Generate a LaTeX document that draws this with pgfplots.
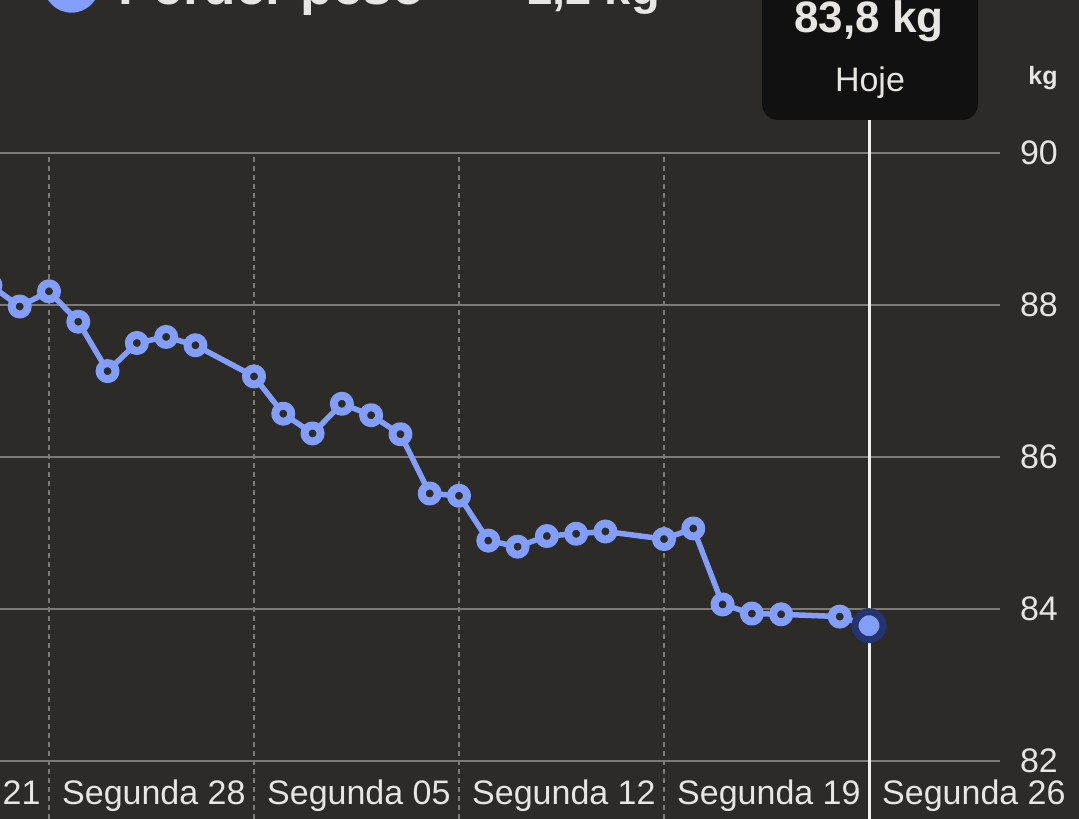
\documentclass[border=0pt]{standalone}
\usepackage{pgfplots}
\pgfplotsset{compat=1.18}
\usepackage{fontspec}
\setmainfont{Liberation Sans}
\definecolor{bg}{RGB}{44,43,40}
\definecolor{gridc}{RGB}{125,123,118}
\definecolor{txt}{RGB}{232,230,226}
\definecolor{serie}{RGB}{130,158,248}
\definecolor{ring}{RGB}{36,52,112}
\definecolor{tip}{RGB}{17,17,17}
\definecolor{today}{RGB}{240,240,238}
\begin{document}
\begin{tikzpicture}
\useasboundingbox (0,0) rectangle (1079pt,819pt);
\clip (0,0) rectangle (1079pt,819pt);
\fill[bg] (0,0) rectangle (1079pt,819pt);
\begin{axis}[
  at={(-185.29pt,0pt)}, anchor=south west,
  scale only axis, width=1185.29pt, height=666pt,
  xmin=-8, xmax=32.473, ymin=81.2368, ymax=90,
  axis line style={draw=none},
  major tick length=0pt,
  xtick={-7,0,7,14,21,28},
  xticklabels={Segunda 21,Segunda 28,Segunda 05,Segunda 12,Segunda 19,Segunda 26},
  ytick={82,84,86,88,90},
  yticklabels={82,84,86,88,90},
  yticklabel pos=right,
  xmajorgrids, ymajorgrids,
  x grid style={gridc, line width=1.5pt, dash pattern=on 5pt off 4pt},
  y grid style={gridc, line width=2pt},
  /pgf/number format/assume math mode=true,
  ticklabel style={font=\fontsize{34}{40}\selectfont, text=txt, inner sep=0pt},
  xticklabel style={anchor=base west, xshift=13pt, yshift=14pt},
  yticklabel style={anchor=east, xshift=58pt},
  clip=false,
]
\draw[today, line width=3pt] (axis cs:28,81.2368) -- (axis cs:28,90.434);
\addplot[serie, line width=5.5pt, line join=round, mark=*, mark size=8pt,
  mark options={fill=bg, draw=serie, line width=8pt}] coordinates {
  (-2,88.26) (-1,87.98) (0,88.18) (1,87.78) (2,87.13) (3,87.50) (4,87.58)
  (5,87.47) (7,87.06) (8,86.57) (9,86.31) (10,86.70) (11,86.55) (12,86.30)
  (13,85.52) (14,85.49) (15,84.90) (16,84.82) (17,84.96) (18,84.99) (19,85.02)
  (21,84.92) (22,85.06) (23,84.06) (24,83.94) (25,83.93) (27,83.90) (28,83.78)
};
\addplot[only marks, mark=*, mark size=14pt,
  mark options={fill=serie, draw=ring, line width=7pt}] coordinates {(28,83.78)};
\end{axis}
\fill[tip, rounded corners=16pt] (762pt,699pt) rectangle (978pt,870pt);
\node[anchor=base, text=txt, font=\bfseries\fontsize{44}{50}\selectfont, inner sep=0pt] at (869pt,786pt) {83,8 kg};
\node[anchor=base, text=txt, font=\fontsize{34}{40}\selectfont, inner sep=0pt] at (870pt,727pt) {Hoje};
\node[anchor=base, text=txt, font=\bfseries\fontsize{25}{30}\selectfont, inner sep=0pt] at (1043pt,734pt) {kg};
\fill[serie] (71.5pt,834.3pt) circle (28pt);
\node[anchor=base west, text=txt, font=\bfseries\fontsize{53}{60}\selectfont, inner sep=0pt] at (118pt,814pt) {Perder peso};
\node[anchor=base east, text=txt, font=\bfseries\fontsize{47}{54}\selectfont, inner sep=0pt] at (660pt,814pt) {−1,2 kg};
\end{tikzpicture}
\end{document}
